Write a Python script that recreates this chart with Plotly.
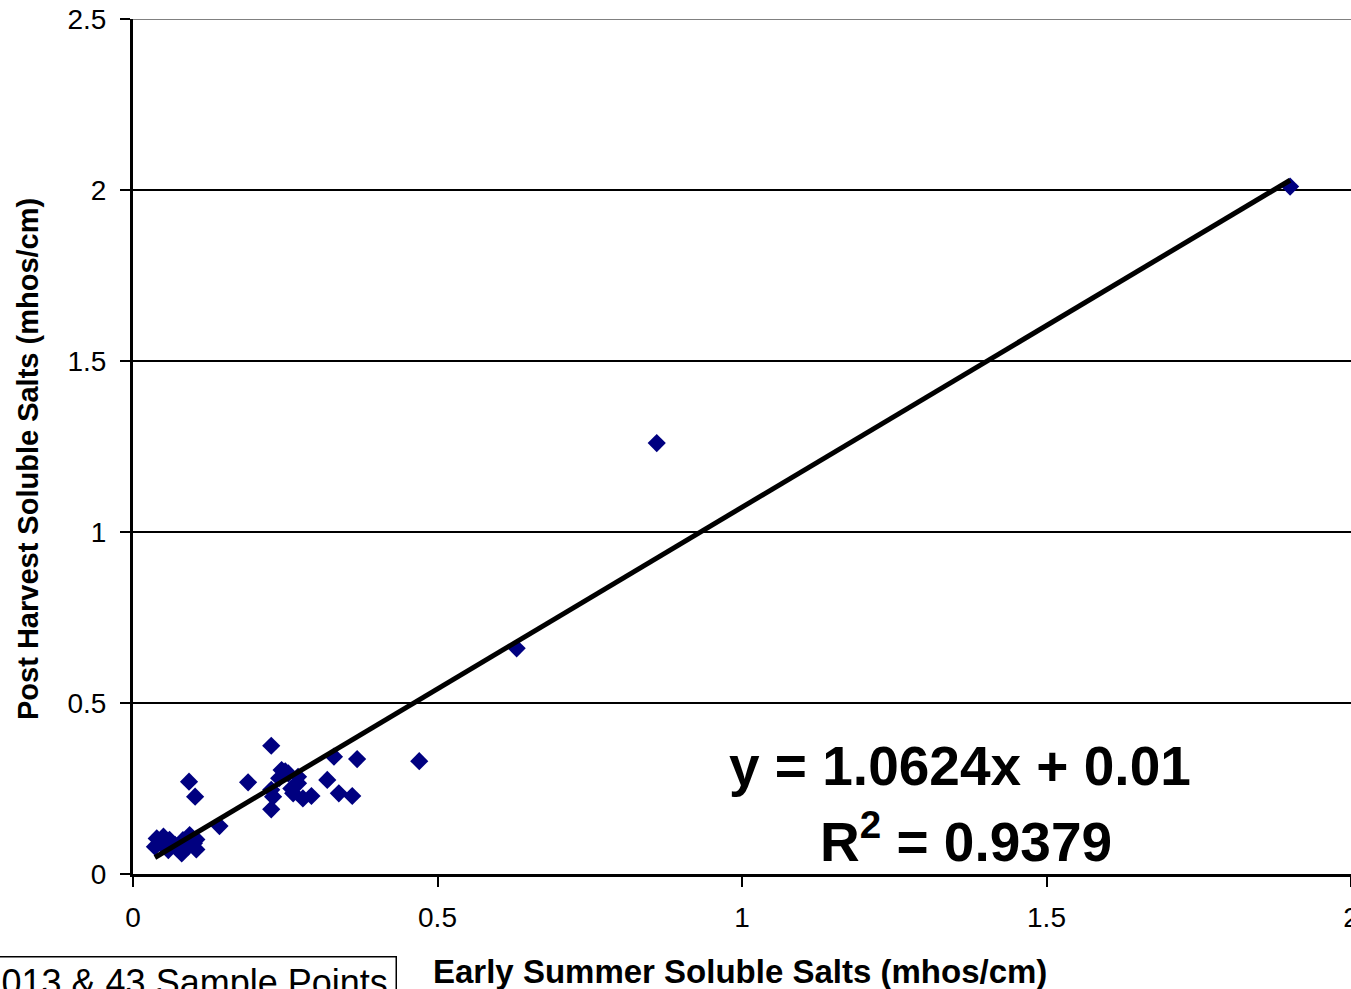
import plotly.graph_objects as go

# Early summer soluble salts (x) vs post-harvest soluble salts (y), mhos/cm
early_summer = [1.90, 0.86, 0.63, 0.47,
                0.227, 0.092, 0.102, 0.189, 0.330, 0.368, 0.244, 0.255, 0.271, 0.271,
                0.319, 0.227, 0.230, 0.263, 0.279, 0.293, 0.338, 0.360, 0.227, 0.142,
                0.039, 0.050, 0.036, 0.058, 0.082, 0.093, 0.104, 0.080, 0.104, 0.069,
                0.045, 0.090, 0.100, 0.060, 0.250, 0.260, 0.240, 0.100, 0.085]
post_harvest = [2.01, 1.26, 0.66, 0.33,
                0.375, 0.270, 0.226, 0.268, 0.343, 0.336, 0.304, 0.294, 0.284, 0.265,
                0.275, 0.246, 0.226, 0.236, 0.221, 0.228, 0.236, 0.228, 0.189, 0.140,
                0.104, 0.109, 0.080, 0.070, 0.099, 0.114, 0.101, 0.060, 0.072, 0.085,
                0.090, 0.080, 0.090, 0.100, 0.300, 0.250, 0.280, 0.100, 0.095]

slope = 1.0624
intercept = 0.01
r_squared = 0.9379

x_ticks = [0, 0.5, 1, 1.5, 2]
y_ticks = [0, 0.5, 1, 1.5, 2, 2.5]

FONT = "Arial, Liberation Sans, sans-serif"

x_min, x_max = min(early_summer), max(early_summer)
trend_x = [x_min, x_max]
trend_y = [slope * v + intercept for v in trend_x]

L, R, T, B = 133, 1351, 19, 874
PW, PH = R - L, B - T


def px_to_paper(px, py):
    return (px - L) / PW, (B - py) / PH


fig = go.Figure()
fig.add_trace(go.Scatter(
    x=early_summer, y=post_harvest, mode="markers",
    marker=dict(symbol="diamond", size=14, color="#000080", line=dict(width=0)),
    showlegend=False, cliponaxis=False))
fig.add_trace(go.Scatter(
    x=trend_x, y=trend_y, mode="lines",
    line=dict(color="black", width=5), showlegend=False))

eq_x, eq_y = px_to_paper(960, 766)
r2_x, r2_y = px_to_paper(966, 838)
xt_x, xt_y = px_to_paper(740, 971)
yt_x, yt_y = px_to_paper(28, 459)
lb_x, lb_y = px_to_paper(397, 956)

fig.update_layout(
    width=1351, height=989,
    margin=dict(l=L, r=0, t=T, b=989 - B),
    paper_bgcolor="white", plot_bgcolor="white",
    font=dict(family=FONT, color="black"),
    xaxis=dict(range=[0, 2], tickvals=x_ticks, ticktext=[str(v) for v in x_ticks],
               showgrid=False, zeroline=False, showline=True, linecolor="black",
               linewidth=3, ticks="outside", ticklen=10, tickwidth=2, tickcolor="black",
               tickfont=dict(size=28, family=FONT), ticklabelstandoff=6,
               ticklabeloverflow="allow", automargin=False),
    yaxis=dict(range=[0, 2.5], tickvals=y_ticks, ticktext=[str(v) for v in y_ticks],
               showgrid=True, gridcolor="black", gridwidth=2, zeroline=False,
               showline=True, linecolor="black", linewidth=3, ticks="outside",
               ticklen=10, tickwidth=2, tickcolor="black",
               tickfont=dict(size=28, family=FONT), ticklabelstandoff=8,
               automargin=False),
    shapes=[dict(type="line", xref="paper", yref="y", x0=0, x1=1, y0=2.5, y1=2.5,
                 line=dict(color="#808080", width=2))],
    annotations=[
        dict(text="<b>y = 1.0624x + 0.01</b>", x=eq_x, y=eq_y, xref="paper", yref="paper",
             xanchor="center", yanchor="middle",
             showarrow=False, font=dict(size=55, family=FONT)),
        dict(text=f"<b>R<sup>2</sup> = {r_squared}</b>", x=r2_x, y=r2_y,
             xref="paper", yref="paper", xanchor="center", yanchor="middle",
             showarrow=False, font=dict(size=55, family=FONT)),
        dict(text="<b>Early Summer Soluble Salts (mhos/cm)</b>", xref="paper", yref="paper",
             x=xt_x, y=xt_y, showarrow=False,
             xanchor="center", yanchor="middle", font=dict(size=33, family=FONT)),
        dict(text="<b>Post Harvest Soluble Salts (mhos/cm)</b>", xref="paper", yref="paper",
             x=yt_x, y=yt_y, showarrow=False, textangle=-90,
             xanchor="center", yanchor="middle", font=dict(size=29, family=FONT)),
        dict(text="2013 & 43 Sample Points", xref="paper", yref="paper",
             x=lb_x, y=lb_y, showarrow=False, width=410, align="left",
             xanchor="right", yanchor="top", bordercolor="black", borderwidth=1.5,
             borderpad=4, bgcolor="white", font=dict(size=36, family=FONT)),
    ],
)

fig.write_html("out.html", post_script="document.body.style.margin='0';",
               config={"displayModeBar": False})
